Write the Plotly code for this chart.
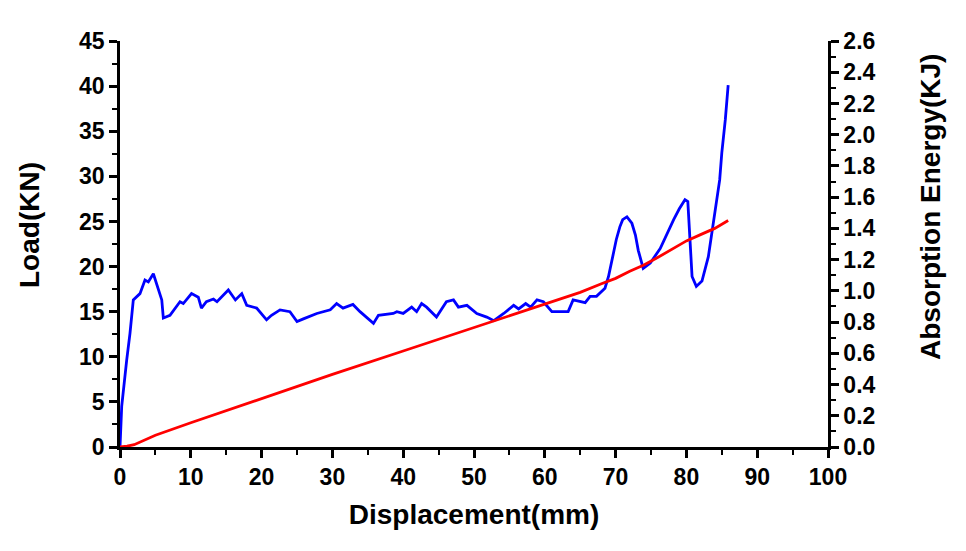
import plotly.graph_objects as go

# Load curve (blue)
disp_load = [0, 0.24, 0.94, 1.41, 1.88, 2.82, 3.53, 4.0, 4.71, 5.4, 5.9, 6.12, 7.06, 8.47, 8.94,
             10.1, 11.06, 11.5, 12.2, 13.2, 13.7, 15.3, 16.3, 17.2, 17.9, 19.3, 20.7, 21.4, 22.6,
             24.0, 25.0, 25.9, 27.8, 29.7, 30.6, 31.5, 32.9, 33.9, 35.8, 36.5, 38.6, 39.1, 40.0,
             41.2, 41.9, 42.6, 43.3, 44.7, 46.1, 47.1, 47.8, 49.0, 50.4, 51.8, 52.8, 54.2, 55.6,
             56.3, 57.3, 58.0, 58.9, 59.8, 61.0, 62.2, 63.3, 64.0, 65.7, 66.4, 67.3, 68.5, 69.0,
             69.7, 70.1, 70.6, 71.0, 71.6, 72.3, 72.8, 73.2, 73.9, 74.9, 76.3, 77.2, 78.2, 79.0,
             79.8, 80.2, 80.4, 80.8, 81.4, 82.2, 83.1, 84.0, 84.7, 85.0, 85.5, 85.9]
load = [0, 4.5, 9.6, 12.6, 16.3, 17.0, 18.5, 18.3, 19.2, 17.4, 16.3, 14.3, 14.6, 16.1, 15.9,
        17.0, 16.6, 15.4, 16.1, 16.4, 16.1, 17.4, 16.3, 17.0, 15.7, 15.4, 14.1, 14.6, 15.2,
        15.0, 13.9, 14.2, 14.8, 15.2, 15.9, 15.4, 15.8, 15.0, 13.7, 14.6, 14.8, 15.0, 14.8,
        15.5, 15.0, 15.9, 15.5, 14.4, 16.1, 16.3, 15.5, 15.7, 14.8, 14.4, 14.0, 14.8, 15.7,
        15.3, 15.9, 15.5, 16.3, 16.1, 15.0, 15.0, 15.0, 16.3, 16.0, 16.7, 16.7, 17.6, 18.9,
        21.5, 23.0, 24.4, 25.2, 25.5, 24.8, 23.5, 21.8, 19.8, 20.4, 22.0, 23.6, 25.2, 26.4,
        27.4, 27.2, 24.1, 18.9, 17.8, 18.4, 21.1, 25.9, 29.6, 32.6, 36.3, 40.1]

# Absorption energy curve (red)
disp_energy = [0, 1, 2, 5, 10, 20, 30, 40, 50, 60, 65, 68, 70, 72, 74, 76, 78, 80, 82, 84, 85.9]
energy = [0, 0.005, 0.015, 0.075, 0.155, 0.31, 0.465, 0.615, 0.765, 0.915, 0.99, 1.045, 1.08,
          1.125, 1.165, 1.215, 1.27, 1.32, 1.36, 1.40, 1.45]

x_ticks = list(range(0, 101, 10))
load_ticks = list(range(0, 46, 5))
energy_ticks = [round(0.2 * i, 1) for i in range(14)]

font_family = "Liberation Sans, Arial, sans-serif"

fig = go.Figure()
fig.add_trace(go.Scatter(x=disp_load, y=load, mode="lines",
                         line=dict(color="#0000FF", width=2.8), yaxis="y", showlegend=False))
fig.add_trace(go.Scatter(x=disp_energy, y=energy, mode="lines",
                         line=dict(color="#FF0000", width=2.8), yaxis="y2", showlegend=False))

axis_common = dict(showgrid=False, zeroline=False, showline=True, linecolor="black",
                   linewidth=2.5, ticks="outside", tickcolor="black", tickwidth=2.5,
                   ticklen=8, tickfont=dict(family=font_family, size=23, color="black",
                                            weight="bold"))
title_font = dict(family=font_family, size=28, color="black", weight="bold")

fig.update_layout(
    width=966, height=551,
    margin=dict(l=120, r=138, t=41, b=104),
    plot_bgcolor="white", paper_bgcolor="white",
    font=dict(family=font_family, color="black"),
    xaxis=dict(range=[0, 100], tickvals=x_ticks, ticktext=[str(v) for v in x_ticks],
               minor=dict(dtick=5, ticks="outside", ticklen=5, tickwidth=2, tickcolor="black"),
               title=dict(text="Displacement(mm)", font=title_font, standoff=16),
               **axis_common),
    yaxis=dict(range=[0, 45], tickvals=load_ticks, ticktext=[str(v) for v in load_ticks],
               minor=dict(dtick=2.5, ticks="outside", ticklen=5, tickwidth=2, tickcolor="black"),
               **axis_common),
    yaxis2=dict(range=[0, 2.6], overlaying="y", side="right", tickvals=energy_ticks,
                ticktext=[f"{v:.1f}" for v in energy_ticks],
                minor=dict(dtick=0.1, ticks="outside", ticklen=5, tickwidth=2, tickcolor="black"),
                **axis_common),
    annotations=[
        dict(text="Load(KN)", xref="paper", yref="paper", x=-0.127, y=0.547,
             textangle=-90, showarrow=False, font=title_font,
             xanchor="center", yanchor="middle"),
        dict(text="Absorption Energy(KJ)", xref="paper", yref="paper", x=1.144, y=0.591,
             textangle=-90, showarrow=False, font=title_font,
             xanchor="center", yanchor="middle"),
    ],
)

fig.write_html("out.html")
